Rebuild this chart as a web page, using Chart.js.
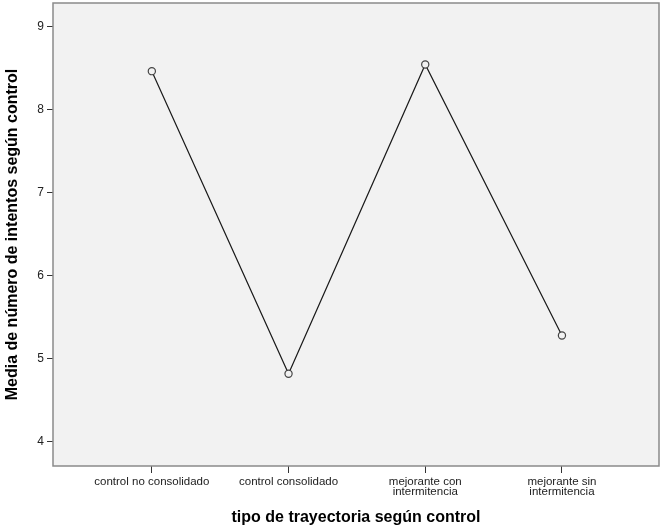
<!DOCTYPE html>
<html><head><meta charset="utf-8">
<script src="https://cdn.jsdelivr.net/npm/chart.js@4"></script>
<style>html,body{margin:0;padding:0;background:#fff;}#wrap{width:662px;height:529px;}</style>
</head><body><div id="wrap"><canvas id="c"></canvas></div>
<script>
const categories = [["control no consolidado"], ["control consolidado"], ["mejorante con", "intermitencia"], ["mejorante sin", "intermitencia"]];
const meanValues = [8.46, 4.82, 8.54, 5.28];
const yTicks = [4, 5, 6, 7, 8, 9];
const xTitle = "tipo de trayectoria según control";
const yTitle = "Media de número de intentos según control";

const frame = {
  id: 'frame',
  beforeDraw(chart) {
    const a = chart.chartArea, ctx = chart.ctx;
    ctx.save(); ctx.fillStyle = '#f2f2f2';
    ctx.fillRect(a.left, a.top, a.right - a.left, a.bottom - a.top);
    ctx.restore();
  },
  afterDraw(chart) {
    const a = chart.chartArea, ctx = chart.ctx;
    ctx.save(); ctx.strokeStyle = '#8a8a8a'; ctx.lineWidth = 1.5;
    ctx.strokeRect(a.left, a.top, a.right - a.left, a.bottom - a.top);
    ctx.restore();
  }
};

new Chart(document.getElementById('c'), {
  type: 'line',
  data: {
    datasets: [{
      data: meanValues.map((v, i) => ({x: i, y: v})),
      borderColor: '#1a1a1a', borderWidth: 1.2,
      pointRadius: 3.6, pointBorderColor: '#444', pointBackgroundColor: '#f2f2f2',
      pointBorderWidth: 1.2, tension: 0, fill: false
    }]
  },
  options: {
    responsive: true, maintainAspectRatio: false, animation: false,
    devicePixelRatio: 1,
    layout: {autoPadding: false, padding: {top: 3, right: 3, left: 0, bottom: 0}},
    plugins: {legend: {display: false}, tooltip: {enabled: false}},
    scales: {
      x: {
        type: 'linear', min: -0.723, max: 3.71,
        afterBuildTicks(s) { s.ticks = categories.map((_, i) => ({value: i})); },
        afterFit(s) { s.height = 63; s.paddingLeft = 0; s.paddingRight = 0; },
        grid: {drawOnChartArea: false, drawTicks: true, tickLength: 7, color: '#333'},
        border: {display: false},
        ticks: {
          autoSkip: false, maxRotation: 0, minRotation: 0, padding: 4,
          color: '#222', font: {family: 'Liberation Sans', size: 11.5, lineHeight: 0.88},
          callback: (v) => categories[v]
        },
        title: {display: true, text: xTitle, color: '#000', padding: {top: 0, bottom: 1.5},
          font: {family: 'Liberation Sans', size: 16, weight: 'bold'}}
      },
      y: {
        type: 'linear', min: 3.71, max: 9.28,
        afterBuildTicks(s) { s.ticks = yTicks.map(v => ({value: v})); },
        afterFit(s) { s.width = 53; s.paddingTop = 0; s.paddingBottom = 0; },
        grid: {drawOnChartArea: false, drawTicks: true, tickLength: 6, color: '#333'},
        border: {display: false},
        ticks: {padding: 3, color: '#222', font: {family: 'Liberation Sans', size: 12}},
        title: {display: true, text: yTitle, color: '#000', padding: {top: 3, bottom: 0},
          font: {family: 'Liberation Sans', size: 16, weight: 'bold'}}
      }
    }
  },
  plugins: [frame]
});
</script></body></html>
